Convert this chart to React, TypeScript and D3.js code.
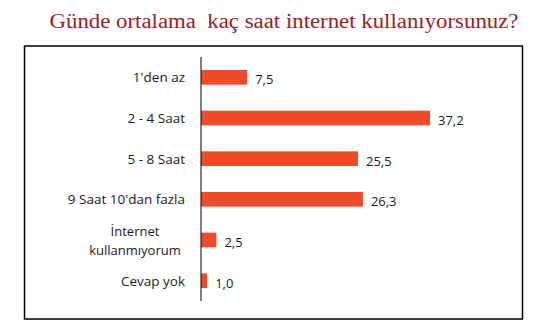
import React from "react";
import * as d3 from "d3";

const categories: string[][] = [
  ["1'den az"],
  ["2 - 4 Saat"],
  ["5 - 8 Saat"],
  ["9 Saat 10'dan fazla"],
  ["İnternet", "kullanmıyorum"],
  ["Cevap yok"],
];
const values: number[] = [7.5, 37.2, 25.5, 26.3, 2.5, 1.0];
const valueLabels: string[] = ["7,5", "37,2", "25,5", "26,3", "2,5", "1,0"];
const title = "Günde ortalama  kaç saat internet kullanıyorsunuz?";

export default function App() {
  const W = 540, H = 336;
  const x = d3.scaleLinear().domain([0, 37.2]).range([201, 430]);
  const y = d3
    .scaleBand<number>()
    .domain(d3.range(values.length))
    .range([57, 301])
    .paddingInner(0.64)
    .paddingOuter(0.32);
  const bw = y.bandwidth();
  const font = "'Open Sans', 'Lato', sans-serif";
  return (
    <svg
      width={W}
      height={H}
      style={{ position: "absolute", left: 0, top: 0, background: "#fff" }}
    >
      <text
        x={49.5}
        y={28}
        fontFamily="'Liberation Serif', 'DejaVu Serif', serif"
        fontSize={20}
        fill="#9E1B22"
        textLength={469}
        lengthAdjust="spacingAndGlyphs"
        style={{ whiteSpace: "pre" }}
      >
        {title}
      </text>
      <rect x={24.5} y={46} width={498} height={273} fill="none" stroke="#000" strokeWidth={1.5} />
      {values.map((v, i) => {
        const yc = (y(i) as number) + bw / 2;
        const lines = categories[i];
        const lh = 19;
        return (
          <g key={i}>
            <rect x={x(0)} y={y(i)} width={x(v) - x(0)} height={bw} fill="#EE4B2B" />
            <text
              x={x(v) + 8}
              y={yc + 2}
              dominantBaseline="central"
              fontFamily={font}
              fontSize={13}
              fill="#1a1a1a"
            >
              {valueLabels[i]}
            </text>
            {lines.length === 1 ? (
              <text
                x={185}
                y={yc}
                dominantBaseline="central"
                textAnchor="end"
                fontFamily={font}
                fontSize={13.5}
                fill="#1a1a1a"
              >
                {lines[0]}
              </text>
            ) : (
              lines.map((l, j) => (
                <text
                  key={j}
                  x={135}
                  y={yc + (j - (lines.length - 1) / 2) * lh}
                  dominantBaseline="central"
                  textAnchor="middle"
                  fontFamily={font}
                  fontSize={13}
                  fill="#1a1a1a"
                >
                  {l}
                </text>
              ))
            )}
          </g>
        );
      })}
      <line x1={x(0)} x2={x(0)} y1={57} y2={301} stroke="#000" strokeWidth={1} />
    </svg>
  );
}
